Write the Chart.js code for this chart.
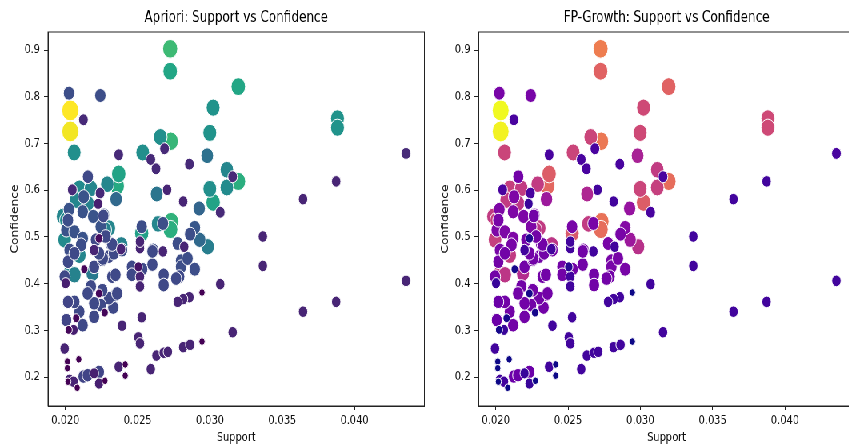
<!DOCTYPE html>
<html><head><meta charset="utf-8">
<script src="https://cdn.jsdelivr.net/npm/chart.js@4.4.1/dist/chart.umd.min.js"></script>
<style>
html,body{margin:0;padding:0;background:#fff;overflow:hidden;width:849px;height:446px;}
#wrap{position:absolute;left:0;top:0;width:1062px;height:446px;transform:scaleX(0.8);transform-origin:0 0;}
canvas{position:absolute;top:0;}
</style></head><body>
<div id="wrap">
<canvas id="c1" width="542" height="446" style="left:0px;width:542px;height:446px"></canvas>
<canvas id="c2" width="542" height="446" style="left:537.5px;width:542px;height:446px"></canvas>
</div>
<script>
// ---- data (same rules found by both algorithms) ----
const support = [
0.02034,0.02034,0.02725,0.02729,0.03196,0.02732,0.02727,0.02725,0.03196,0.02358,
0.03022,0.02528,0.02369,0.03022,0.03882,0.03882,0.02999,0.02657,0.02061,0.02535,
0.03117,0.03117,0.02999,0.02290,0.02097,0.02177,0.01984,0.01995,0.02301,0.02097,
0.02387,0.02641,0.02985,0.02029,0.02063,0.02154,0.02075,0.02007,0.02274,0.02188,
0.02981,0.02632,0.02351,0.02926,0.02929,0.02895,
0.02025,0.02242,0.02156,0.02127,0.02025,0.02120,0.02193,0.02267,0.02245,0.02007,
0.02063,0.02120,0.02029,0.02313,0.02392,0.02528,0.02675,0.02607,0.02777,0.02863,
0.02895,0.02800,0.02800,0.02845,0.02788,0.02766,0.02680,0.02680,0.02602,0.02602,
0.02532,0.02460,0.02460,0.02331,0.02347,0.02301,0.02245,0.02256,0.02199,0.02199,
0.02177,0.02154,0.02120,0.02097,0.02063,0.02007,0.02018,0.02125,0.02154,0.02233,
0.02199,0.02256,0.02301,0.02335,0.02324,0.02347,0.02358,0.01995,0.02018,0.02260,
0.02324,0.02263,0.02018,0.02109,0.02063,0.02233,0.02211,0.02279,
0.02125,0.02686,0.02369,0.02591,0.02627,0.02858,0.04356,0.03157,0.03071,0.02815,
0.02704,0.03873,0.03644,0.02048,0.02240,0.02227,0.02199,0.02516,0.02516,0.02675,
0.02822,0.03366,0.03366,0.04356,0.03873,0.03644,0.03157,0.03071,0.02858,0.02815,
0.02777,0.02516,0.02516,0.02528,0.02505,0.02516,0.02591,0.02630,0.02680,0.02709,
0.02815,0.02863,0.02369,0.02392,0.02057,0.01995,0.02029,0.02057,0.02199,0.02233,
0.02385,0.02002,0.02233,0.02505,
0.02945,0.02945,0.02414,0.02414,0.02272,0.02233,0.02075,0.02023,0.02014,0.02014,
0.02093,0.02082,0.02274,0.02131,0.02018
];
const confidence = [
0.771,0.726,0.903,0.705,0.619,0.533,0.516,0.855,0.822,0.609,
0.574,0.508,0.635,0.777,0.754,0.734,0.723,0.714,0.681,0.681,
0.644,0.606,0.603,0.613,0.604,0.604,0.544,0.494,0.519,0.461,
0.483,0.528,0.479,0.422,0.419,0.572,0.579,0.536,0.515,0.422,
0.674,0.592,0.581,0.561,0.494,0.520,
0.808,0.803,0.629,0.586,0.559,0.554,0.544,0.547,0.522,0.515,
0.511,0.497,0.472,0.486,0.472,0.522,0.529,0.472,0.486,0.506,
0.431,0.449,0.436,0.454,0.415,0.411,0.419,0.397,0.441,0.469,
0.431,0.436,0.419,0.349,0.376,0.369,0.354,0.386,0.329,0.358,
0.394,0.379,0.311,0.340,0.361,0.322,0.361,0.201,0.204,0.211,
0.436,0.451,0.458,0.465,0.415,0.419,0.379,0.415,0.447,0.454,
0.484,0.545,0.536,0.483,0.465,0.465,0.494,0.501,
0.751,0.689,0.676,0.666,0.646,0.656,0.679,0.629,0.553,0.576,
0.601,0.619,0.581,0.601,0.594,0.571,0.472,0.476,0.490,0.469,
0.479,0.501,0.438,0.406,0.361,0.340,0.296,0.399,0.371,0.367,
0.361,0.415,0.394,0.328,0.285,0.272,0.217,0.246,0.252,0.254,
0.264,0.269,0.222,0.310,0.301,0.261,0.194,0.190,0.208,0.186,
0.474,0.401,0.497,0.436,
0.381,0.276,0.227,0.203,0.338,0.379,0.326,0.301,0.233,0.219,
0.238,0.177,0.192,0.431,0.190
];
const lift = [
7.2,7.1,5.3,5.2,5.0,5.1,5.0,4.8,4.8,4.9,
4.7,4.6,4.7,4.3,4.3,4.3,4.3,4.2,4.2,4.2,
4.0,4.1,4.2,4.0,4.1,4.0,4.0,4.1,4.0,4.0,
3.9,4.0,3.8,4.0,3.9,3.9,4.0,4.1,3.9,3.7,
3.5,3.6,3.3,3.2,3.3,2.9,
2.7,2.7,2.6,2.8,2.8,2.8,2.8,2.8,2.8,2.8,
2.8,2.8,2.7,2.7,2.7,2.7,2.7,2.7,2.7,2.7,
2.7,2.7,2.7,2.7,2.6,2.6,2.6,2.6,2.6,2.6,
2.6,2.6,2.6,2.6,2.6,2.6,2.6,2.6,2.6,2.6,
2.6,2.6,2.6,2.6,2.6,2.5,2.5,2.5,2.5,2.5,
2.6,2.6,2.6,2.6,2.6,2.6,2.6,2.6,2.6,2.6,
2.6,2.6,2.7,2.7,2.6,2.6,2.6,2.6,
2.0,2.0,2.0,2.0,2.0,2.0,2.0,2.0,2.0,1.9,
1.9,1.9,1.9,2.0,2.0,1.8,1.9,1.9,1.9,1.9,
1.9,1.9,1.9,1.9,1.9,1.9,1.9,1.9,1.9,1.9,
1.9,1.9,1.9,1.9,1.9,1.9,1.9,1.9,1.9,1.9,
1.9,1.9,1.9,1.9,1.8,1.9,1.9,1.9,1.8,1.8,
1.9,1.8,1.5,1.6,
1.3,1.3,1.3,1.3,1.4,1.4,1.4,1.4,1.3,1.3,
1.3,1.3,1.3,1.4,1.3
];
const xTicks = [0.020,0.025,0.030,0.035,0.040];
const yTicks = [0.2,0.3,0.4,0.5,0.6,0.7,0.8,0.9];
const titles = ['Apriori: Support vs Confidence','FP-Growth: Support vs Confidence'];
const xLabel = 'Support', yLabel = 'Confidence';

// ---- colour maps ----
const viridis = ['#440154','#482475','#414487','#355f8d','#2a788e','#21918c','#22a884','#44bf70','#7ad151','#bddf26','#fde725'];
const plasma  = ['#0d0887','#41049d','#6a00a8','#8f0da4','#b12a90','#cc4778','#e16462','#f2844b','#fca636','#fcce25','#f0f921'];
function hex(h){return [parseInt(h.slice(1,3),16),parseInt(h.slice(3,5),16),parseInt(h.slice(5,7),16)];}
function cmap(stops,t){
  t=Math.max(0,Math.min(1,t));
  const p=t*(stops.length-1), i=Math.min(Math.floor(p),stops.length-2), f=p-i;
  const a=hex(stops[i]), b=hex(stops[i+1]);
  return 'rgb('+a.map((v,k)=>Math.round(v+(b[k]-v)*f)).join(',')+')';
}
const lMin=Math.min(...lift), lMax=Math.max(...lift);
const tNorm = lift.map(v=>(v-lMin)/(lMax-lMin));
const radii = tNorm.map(t=>Math.sqrt(18.5+102.5*Math.pow(t,0.69))-0.5);

const framePlugin={id:'frame',afterDatasetsDraw(chart){
  const {ctx,chartArea:a}=chart; ctx.save(); ctx.strokeStyle='#222'; ctx.lineWidth=1;
  ctx.strokeRect(a.left,a.top,a.right-a.left,a.bottom-a.top); ctx.restore();}};

const FONT='DejaVu Sans';
function makeChart(id,title,stops){
  const pts=support.map((s,i)=>({x:s,y:confidence[i]}));
  return new Chart(document.getElementById(id),{
    type:'scatter',
    data:{datasets:[{data:pts,
      backgroundColor:tNorm.map(t=>cmap(stops,t)),
      pointRadius:radii, pointHoverRadius:radii,
      borderColor:'#ffffff', borderWidth:1}]},
    options:{
      responsive:false, animation:false, devicePixelRatio:1,
      layout:{padding:{left:0,right:3,top:0,bottom:0}},
      plugins:{legend:{display:false},tooltip:{enabled:false},
        title:{display:true,text:title,fullSize:false,color:'#000',
          font:{family:FONT,size:15,weight:'normal'},padding:{top:9,bottom:5}}},
      scales:{
        x:{type:'linear',min:0.0188,max:0.04483,
          afterFit(s){s.height=40;},
          afterBuildTicks(s){s.ticks=xTicks.map(v=>({value:v}));},
          ticks:{callback:v=>v.toFixed(3),color:'#111',padding:3.5,maxRotation:0,autoSkip:false,
            font:{family:FONT,size:12.3}},
          grid:{display:true,drawOnChartArea:false,drawTicks:true,tickLength:4,color:'#222',lineWidth:1},
          border:{display:true,color:'#222',width:1},
          title:{display:true,text:xLabel,color:'#111',font:{family:FONT,size:12.3},padding:{top:0,bottom:0.6}}},
        y:{type:'linear',min:0.138,max:0.939,
          afterFit(s){s.width=60;},
          afterBuildTicks(s){s.ticks=yTicks.map(v=>({value:v}));},
          ticks:{callback:v=>v.toFixed(1),color:'#111',padding:5,autoSkip:false,
            font:{family:FONT,size:12.3}},
          grid:{display:true,drawOnChartArea:false,drawTicks:true,tickLength:5,color:'#222',lineWidth:1},
          border:{display:true,color:'#222',width:1},
          title:{display:true,text:yLabel,color:'#111',font:{family:FONT,size:12.3},padding:{top:11.3,bottom:0}}}
      }
    },
    plugins:[framePlugin]
  });
}
makeChart('c1',titles[0],viridis);
makeChart('c2',titles[1],plasma);
</script>
</body></html>
